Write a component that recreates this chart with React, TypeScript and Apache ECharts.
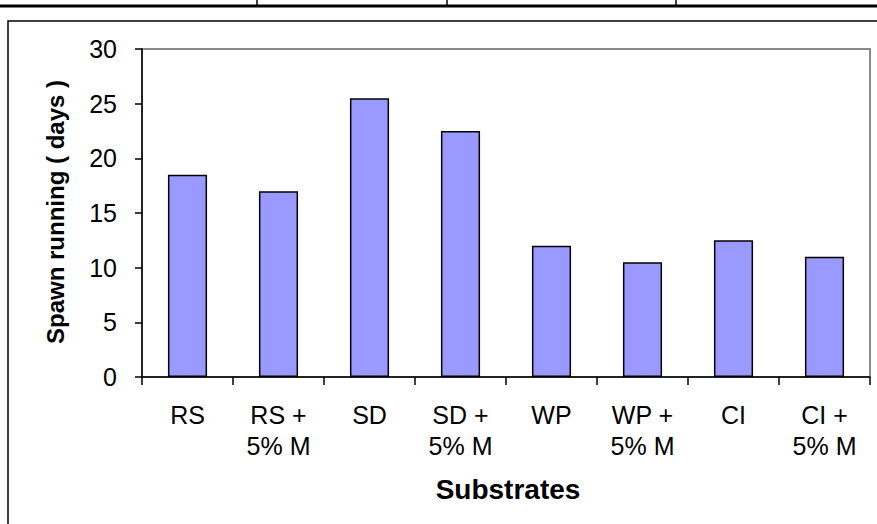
import React, { useEffect, useRef } from "react";
import * as echarts from "echarts";

const categories = ["RS", "RS +\n5% M", "SD", "SD +\n5% M", "WP", "WP +\n5% M", "CI", "CI +\n5% M"];
const spawnDays = [18.5, 17, 25.5, 22.5, 12, 10.5, 12.5, 11];
const yTicks = { min: 0, max: 30, interval: 5 };
const xTitle = "Substrates";
const yTitle = "Spawn running ( days )";

const FONT = "'Liberation Sans', Arial, sans-serif";

export default function App() {
  const ref = useRef<HTMLDivElement>(null);
  useEffect(() => {
    if (!ref.current) return;
    const chart = echarts.init(ref.current, undefined, { renderer: "svg" });
    chart.setOption({
      animation: false,
      backgroundColor: "#ffffff",
      grid: {
        left: 142,
        right: 7,
        top: 49,
        bottom: 147,
        show: true,
        borderColor: "#8a8a8a",
        borderWidth: 2,
        backgroundColor: "transparent",
      },
      xAxis: {
        type: "category",
        data: categories,
        axisLine: { lineStyle: { color: "#000", width: 1.5 } },
        axisTick: { show: true, length: 8, lineStyle: { color: "#000", width: 1.5 } },
        axisLabel: {
          color: "#000",
          fontFamily: FONT,
          fontSize: 25,
          lineHeight: 31,
          margin: 22,
          interval: 0,
        },
      },
      yAxis: {
        type: "value",
        min: yTicks.min,
        max: yTicks.max,
        interval: yTicks.interval,
        axisLine: { show: true, lineStyle: { color: "#000", width: 1.5 } },
        axisTick: { show: true, length: 7, lineStyle: { color: "#000", width: 1.5 } },
        splitLine: { show: false },
        axisLabel: {
          color: "#000",
          fontFamily: FONT,
          fontSize: 25,
          margin: 25,
        },
      },
      series: [
        {
          type: "bar",
          data: spawnDays,
          barWidth: "43%",
          itemStyle: { color: "#9999ff", borderColor: "#000", borderWidth: 1.5 },
        },
      ],
      graphic: [
        {
          type: "rect",
          shape: { x: 8, y: 21, width: 900, height: 600 },
          style: { fill: "none", stroke: "#000", lineWidth: 1.5 },
          silent: true,
        },
        {
          type: "line",
          shape: { x1: 0, y1: 6, x2: 877, y2: 6 },
          style: { stroke: "#000", lineWidth: 3 },
        },
        { type: "line", shape: { x1: 257, y1: 0, x2: 257, y2: 6 }, style: { stroke: "#000", lineWidth: 1.5 } },
        { type: "line", shape: { x1: 447, y1: 0, x2: 447, y2: 6 }, style: { stroke: "#000", lineWidth: 1.5 } },
        { type: "line", shape: { x1: 676, y1: 0, x2: 676, y2: 6 }, style: { stroke: "#000", lineWidth: 1.5 } },
        {
          type: "text",
          x: 508,
          y: 489,
          style: {
            text: xTitle,
            fill: "#000",
            font: `bold 28px ${FONT}`,
            align: "center",
            verticalAlign: "middle",
          },
        },
        {
          type: "text",
          x: 55,
          y: 212,
          rotation: Math.PI / 2,
          style: {
            text: yTitle,
            fill: "#000",
            font: `bold 24px ${FONT}`,
            align: "center",
            verticalAlign: "middle",
          },
        },
      ],
    });
    return () => chart.dispose();
  }, []);
  return (
    <div style={{ position: "fixed", left: 0, top: 0, width: 877, height: 524, background: "#fff" }}>
      <div ref={ref} style={{ width: 877, height: 524 }} />
    </div>
  );
}
